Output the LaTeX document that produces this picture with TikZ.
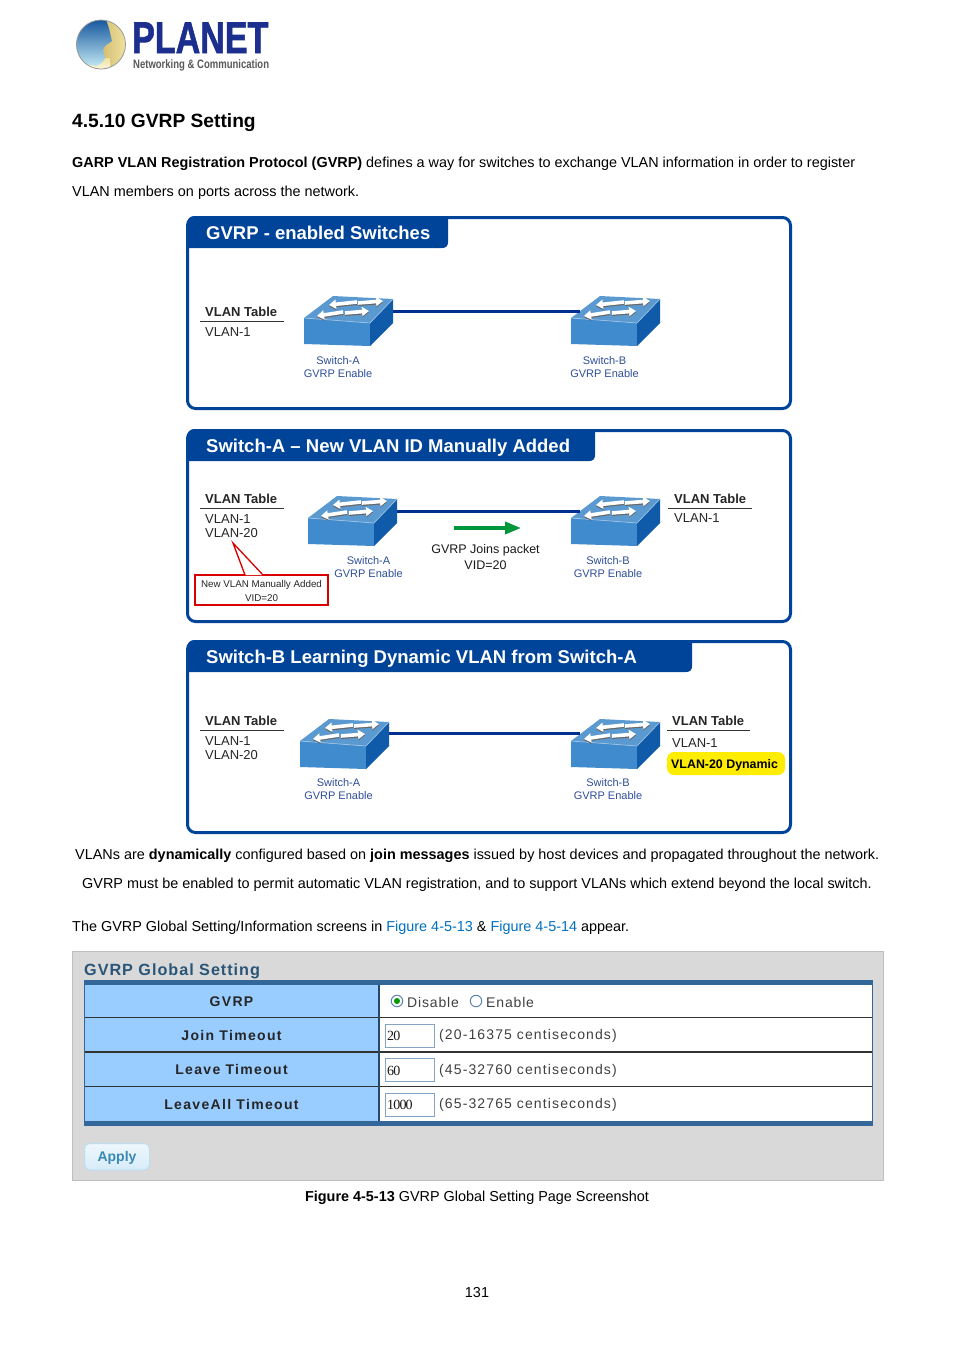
\documentclass[tikz,border=0pt]{standalone}
\usepackage{fontspec}
\usetikzlibrary{arrows.meta,calc}
\setmainfont{Liberation Sans}
\newfontfamily\webfont[LetterSpace=6]{Liberation Sans}
\newfontfamily\webwide[LetterSpace=8]{Liberation Sans}
\newfontfamily\webhd[LetterSpace=9.5]{Liberation Sans}
\newfontfamily\inputfont[LetterSpace=-6]{Liberation Serif}
\newfontfamily\logofont[FakeBold=1.6]{Liberation Sans}
\newcommand{\fs}[1]{\fontsize{#1}{#1}\selectfont}
\definecolor{panelblue}{HTML}{004499}
\definecolor{linkblue}{HTML}{0070C0}
\definecolor{labelblue}{HTML}{2F4F9A}
\definecolor{linkline}{HTML}{00308F}
\definecolor{webbar}{HTML}{336699}
\definecolor{webcell}{HTML}{99CCFF}
\definecolor{webtitle}{HTML}{2A5578}
\definecolor{logoblue}{HTML}{1C2F8F}
\definecolor{applytext}{HTML}{3A88B5}
\definecolor{applytop}{HTML}{EEF7FC}
\definecolor{applybot}{HTML}{D6ECF9}
\definecolor{applyedge}{HTML}{BBDDEE}
\definecolor{swtop}{HTML}{5B9AD0}
\definecolor{swfront}{HTML}{408BCD}
\definecolor{swside}{HTML}{0F5AA9}
\definecolor{goldA}{HTML}{B8963E}
\definecolor{goldB}{HTML}{EFE2A0}
\definecolor{globeA}{HTML}{17589F}
\definecolor{globeB}{HTML}{3F9BD8}
\definecolor{globeC}{HTML}{BFE6F2}
\newcommand{\paneltabpath}[3]{(187,#2+#3) -- (187,#2+8) .. controls (187,#2+3) and (190,#2) .. (195,#2) -- (#1,#2) -- (#1,#2+#3-6) .. controls (#1,#2+#3-2) and (#1-2,#2+#3) .. (#1-6,#2+#3) -- cycle}
\tikzset{
  x=1pt,y=-1pt,
  body/.style={inner sep=0,anchor=base west,font=\fs{14.42},text=black},
  bodyc/.style={body,anchor=base},
  paneltitle/.style={inner sep=0,anchor=base west,font=\bfseries\fs{18.5},text=white},
  vt/.style={inner sep=0,anchor=base west,font=\bfseries\fs{13},text=black!85},
  vl/.style={inner sep=0,anchor=base west,font=\fs{13},text=black!85},
  vrule/.style={line width=1.6pt,black!80},
  swlabel/.style={inner sep=0,anchor=base,font=\fs{11},text=labelblue},
  joins/.style={inner sep=0,anchor=base,font=\fs{12.5},text=black!90},
  panelbox/.style={draw=panelblue,line width=3pt,fill=white,rounded corners=8pt},
  link/.style={line width=3pt,color=linkline},
  webhead/.style={inner sep=0,anchor=base,font=\webhd\bfseries\fs{14},text=black!85},
  webtext/.style={inner sep=0,anchor=base west,font=\webfont\fs{14},text=black!75},
  webrange/.style={inner sep=0,anchor=base west,font=\webwide\fs{14},text=black!75},
  webinput/.style={draw=webbar!60,line width=1pt,fill=white,inner sep=0,anchor=north west},
  webdiv/.style={line width=1.2pt,black!80},
  inputtext/.style={inner sep=0,anchor=base west,font=\inputfont\fs{14},text=black!90},
  radio/.style={circle,draw=webbar!80,line width=1pt,fill=white,minimum size=11.5pt,inner sep=0},
  whitearrow/.style={line width=3.6pt,white,-{Triangle[length=7pt,width=9pt]}},
  shadearrow/.style={line width=3.6pt,black!60,-{Triangle[length=7pt,width=9pt]}},
  gvrpswitch/.pic={
    \fill[swtop] (0,0) -- (29,-22) -- (89,-19) -- (66,5) -- cycle;
    \fill[swfront] (0,0) -- (66,5) -- (66,28) -- (0,26) -- cycle;
    \fill[swside] (66,5) -- (89,-19) -- (89,5) -- (66,28) -- cycle;
    \draw[swtop!60!white,line width=0.7pt] (0,0) -- (66,5) -- (89,-19);
    \foreach \ax/\ay/\bx/\by in {53/-16/25/-13, 54/-15/79/-17, 39/-6/13/-2, 41/-5/65/-7}{
      \draw[shadearrow] (\ax,\ay+1.2) -- (\bx,\by+1.2);
      \draw[whitearrow] (\ax,\ay) -- (\bx,\by);
    }
    \coordinate (-out) at (89,-7);
    \coordinate (-in) at (9,-7);
  },
}
\begin{document}
\begin{tikzpicture}
\useasboundingbox[fill=white] (0,0) rectangle (954,1350);

% logo
\begin{scope}
  \clip (101,44.5) circle (24.5);
  \shade[left color=goldA,right color=goldB] (76,20) rectangle (126,70);
  \shade[top color=goldB,bottom color=white!70!goldB] (76,58) rectangle (110,70);
  \shade[top color=globeA,middle color=globeB,bottom color=globeC] (76,20) -- (106,20) .. controls (110,30) and (110,34) .. (112,41) -- (105,46) -- (103,50) -- (105,58) .. controls (103,63) and (100,64) .. (96,66) -- (76,62) -- cycle;
\end{scope}
\draw[black!40,line width=0.8pt] (101,44.5) circle (24.5);
\node[inner sep=0,anchor=base west,text=logoblue] (logoname) at (132,53) {\scalebox{0.765}[1]{\logofont\bfseries\fs{44.5}PLANET}};
\node[inner sep=0,anchor=base west,text=black!65] (logosub) at (133,68) {\scalebox{0.78}[1]{\bfseries\fs{12.2}Networking \& Communication}};

% heading and intro
\node[inner sep=0,anchor=base west,font=\bfseries\fs{19.2}] (heading) at (72,127) {4.5.10 GVRP Setting};
\node[body] (intro1) at (72,167) {\textbf{GARP VLAN Registration Protocol (GVRP)} defines a way for switches to exchange VLAN information in order to register};
\node[body] (intro2) at (72,196) {VLAN members on ports across the network.};

% panel 1
\draw[panelbox] (187.5,217.5) rectangle (790.5,408.5);
\fill[panelblue] \paneltabpath{448}{216}{32};
\node[paneltitle] (t1) at (206,239) {GVRP - enabled Switches};
\node[vt] (p1vt) at (205,316) {VLAN Table};
\draw[vrule] (200,321.5) -- (284,321.5);
\node[vl] (p1v1) at (205,336) {VLAN-1};
\pic (p1a) at (304,318) {gvrpswitch};
\pic (p1b) at (571,318) {gvrpswitch};
\draw[link] (p1a-out) -- (p1b-in);
\node[swlabel] (p1al1) at (338,364) {Switch-A};
\node[swlabel] (p1al2) at (338,377) {GVRP Enable};
\node[swlabel] (p1bl1) at (604.5,364) {Switch-B};
\node[swlabel] (p1bl2) at (604.5,377) {GVRP Enable};

% panel 2
\draw[panelbox] (187.5,430.5) rectangle (790.5,621.5);
\fill[panelblue] \paneltabpath{595}{429}{32};
\node[paneltitle] (t2) at (206,452) {Switch-A -- New VLAN ID Manually Added};
\node[vt] (p2vt) at (205,503) {VLAN Table};
\draw[vrule] (200,508.5) -- (284,508.5);
\node[vl] (p2v1) at (205,523) {VLAN-1};
\node[vl] (p2v2) at (205,537) {VLAN-20};
\pic (p2a) at (308,518) {gvrpswitch};
\pic (p2b) at (571,518) {gvrpswitch};
\draw[link] (p2a-out) -- (p2b-in);
\node[swlabel] (p2al1) at (368.5,564.5) {Switch-A};
\node[swlabel] (p2al2) at (368.5,577.5) {GVRP Enable};
\node[swlabel] (p2bl1) at (608,564.5) {Switch-B};
\node[swlabel] (p2bl2) at (608,577.5) {GVRP Enable};
\node[vt] (p2rvt) at (674,503) {VLAN Table};
\draw[vrule] (668,508.5) -- (752,508.5);
\node[vl] (p2rv1) at (674,522) {VLAN-1};
\coordinate (gas) at (454,528);
\coordinate (gae) at (521,528);
\draw[line width=3.6pt,color={rgb,255:red,0;green,150;blue,60},-{Triangle[length=16pt,width=12pt]}] (gas) -- (gae);
\node[joins] (gj1) at (485.5,553.5) {GVRP Joins packet};
\node[joins] (gj2) at (485.5,569) {VID=20};
\node[draw=red!85!black,line width=1.8pt,fill=white,minimum width=133pt,minimum height=30pt,inner sep=0] (callout) at (261.5,590) {};
\coordinate (calltip) at (233,543);
\draw[draw=red!85!black,line width=1.3pt,fill=white] (245,575) -- (calltip) -- (263,575);
\node[inner sep=0,anchor=base,font=\fs{9.8},text=black!85] (c1) at (261.5,587) {New VLAN Manually Added};
\node[inner sep=0,anchor=base,font=\fs{9.8},text=black!85] (c2) at (261.5,601.5) {VID=20};

% panel 3
\draw[panelbox] (187.5,641.5) rectangle (790.5,832.5);
\fill[panelblue] \paneltabpath{692}{640}{32};
\node[paneltitle] (t3) at (206,663) {Switch-B Learning Dynamic VLAN from Switch-A};
\node[vt] (p3vt) at (205,725) {VLAN Table};
\draw[vrule] (200,730.5) -- (284,730.5);
\node[vl] (p3v1) at (205,745) {VLAN-1};
\node[vl] (p3v2) at (205,759) {VLAN-20};
\pic (p3a) at (300,741) {gvrpswitch};
\pic (p3b) at (571,741) {gvrpswitch};
\draw[link] ([yshift=1pt]p3a-out) -- ([yshift=1pt]p3b-in);
\node[swlabel] (p3al1) at (338.5,786.5) {Switch-A};
\node[swlabel] (p3al2) at (338.5,799.5) {GVRP Enable};
\node[swlabel] (p3bl1) at (608,786.5) {Switch-B};
\node[swlabel] (p3bl2) at (608,799.5) {GVRP Enable};
\node[vt] (p3rvt) at (672,725) {VLAN Table};
\draw[vrule] (667,730.5) -- (750,730.5);
\node[vl] (p3rv1) at (672,747) {VLAN-1};
\fill[yellow!95!orange,rounded corners=7pt] (667,752) rectangle (785,775);
\node[inner sep=0,anchor=base west,font=\bfseries\fs{12.4},text=black] (p3rv2) at (671,768) {VLAN-20 Dynamic};

% paragraphs
\node[body] (para1) at (75,859) {VLANs are \textbf{dynamically} configured based on \textbf{join messages} issued by host devices and propagated throughout the network.};
\node[body] (para2) at (82,888) {GVRP must be enabled to permit automatic VLAN registration, and to support VLANs which extend beyond the local switch.};
\node[body] (para3) at (72,931) {The GVRP Global Setting/Information screens in \textcolor{linkblue}{Figure 4-5-13} \& \textcolor{linkblue}{Figure 4-5-14} appear.};

% screenshot
\draw[fill=black!15,draw=black!25,line width=1pt] (72.5,951.5) rectangle (883.5,1180.5);
\node[inner sep=0,anchor=base west,font=\webfont\bfseries\fs{16.2},text=webtitle] (webt) at (84,975) {GVRP Global Setting};
\fill[webcell] (84,980) rectangle (379,1126);
\fill[white] (379,980) rectangle (873,1126);
\fill[webbar] (84,980) rectangle (873,985);
\fill[webbar] (84,1121) rectangle (873,1126);
\draw[webbar,line width=1.5pt] (84.7,980) -- (84.7,1126);
\draw[webbar,line width=1.5pt] (872.3,980) -- (872.3,1126);
\draw[webdiv] (85,1017.5) -- (872,1017.5);
\draw[webdiv] (85,1052) -- (872,1052);
\draw[webdiv] (85,1086.5) -- (872,1086.5);
\draw[webbar!70!black,line width=2pt] (379,985) -- (379,1121);
\node[webhead] (h1) at (231.5,1006) {GVRP};
\node[webhead] (h2) at (231.5,1040) {Join Timeout};
\node[webhead] (h3) at (231.5,1074.5) {Leave Timeout};
\node[webhead] (h4) at (231.5,1109) {LeaveAll Timeout};
\node[radio] (rd) at (397,1001) {};
\fill[green!60!black] (rd) circle (3);
\node[webtext] (td) at (407,1007) {Disable};
\node[radio] (re) at (476,1001) {};
\node[webtext] (te) at (486,1007) {Enable};
\node[webinput,minimum width=49pt,minimum height=23pt] (i1) at (384.8,1023.5) {};
\node[webinput,minimum width=49pt,minimum height=23pt] (i2) at (384.8,1058) {};
\node[webinput,minimum width=49pt,minimum height=23pt] (i3) at (384.8,1092.5) {};
\node[inputtext] (iv1) at (387,1040) {20};
\node[inputtext] (iv2) at (387,1075) {60};
\node[inputtext] (iv3) at (387,1109) {1000};
\node[webrange] (r1) at (439,1039) {(20-16375 centiseconds)};
\node[webrange] (r2) at (439,1074) {(45-32760 centiseconds)};
\node[webrange] (r3) at (439,1108) {(65-32765 centiseconds)};
\shade[top color=applytop,bottom color=applybot,draw=applyedge,rounded corners=5pt,line width=1pt] (84.5,1143.5) rectangle (149.5,1170);
\node[inner sep=0,anchor=base,font=\bfseries\fs{14},text=applytext] (apply) at (117,1161) {Apply};

% caption and page number
\node[bodyc] (caption) at (477,1201) {\textbf{Figure 4-5-13} GVRP Global Setting Page Screenshot};
\node[bodyc] (pageno) at (477,1297) {131};
\end{tikzpicture}
\end{document}
